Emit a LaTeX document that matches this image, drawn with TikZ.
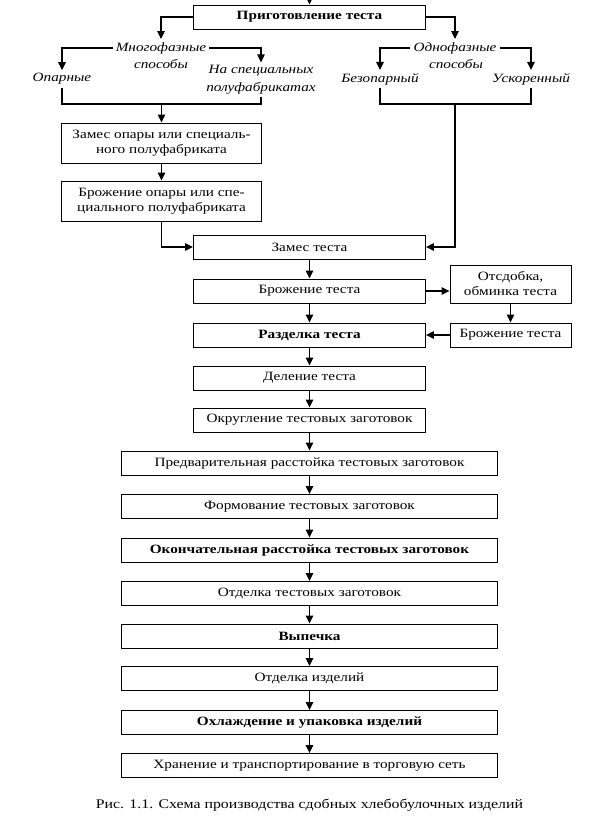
\documentclass[tikz,border=0pt]{standalone}
\usepackage{fontspec}
\setmainfont{Liberation Serif}[FakeStretch=1.2]
\usetikzlibrary{arrows.meta}
\begin{document}
\begin{tikzpicture}[x=1pt,y=-1pt,
  txt/.style={font=\fontsize{12.7}{15}\selectfont},
  bold/.style={font=\fontsize{12.7}{15}\selectfont\bfseries},
  box/.style={draw, line width=0.9pt, inner sep=0pt, align=center, minimum height=24pt, txt},
  main/.style={box, minimum width=232pt},
  wide/.style={box, minimum width=376pt},
  side/.style={box, minimum width=200pt, minimum height=40pt},
  rbox/.style={box, minimum width=121pt},
  lab/.style={font=\fontsize{12.7}{15}\selectfont\itshape, inner xsep=3pt, inner ysep=3pt},
  arr/.style={line width=1.2pt, -{Triangle[length=8pt,width=7.5pt]}},
  ln/.style={line width=1.2pt},
]
\useasboundingbox (0,0) rectangle (613,836);

% top
\coordinate (top) at (309.5,0);
\node[main, bold] (prep) at (309.5,17) {Приготовление теста};

% labels
\node[lab] (mf1) at (161,48) {Многофазные};
\node[lab] (mf2) at (161,64) {способы};
\node[lab] (op) at (62,79) {Опарные};
\node[lab] (ns1) at (261,71) {На специальных};
\node[lab] (ns2) at (261,88) {полуфабрикатах};
\node[lab] (of1) at (455,48) {Однофазные};
\node[lab] (of2) at (456,64) {способы};
\node[lab] (bz) at (380,79) {Безопарный};
\node[lab] (us) at (531,79) {Ускоренный};

% boxes
\node[side] (zo) at (161.5,143) {Замес опары или специаль-\\ного полуфабриката};
\node[side] (bo) at (161.5,201) {Брожение опары или спе-\\циального полуфабриката};
\node[main] (zt) at (309.5,247) {Замес теста};
\node[main] (bt) at (309.5,291) {Брожение теста};
\node[rbox, minimum height=38pt] (ots) at (510.5,284) {Отсдобка,\\обминка теста};
\node[main, bold] (rt) at (309.5,335) {Разделка теста};
\node[rbox] (bt2) at (510.5,335) {Брожение теста};
\node[main] (dt) at (309.5,378) {Деление теста};
\node[main] (okr) at (309.5,420) {Округление тестовых заготовок};
\node[wide] (pr) at (309.5,463) {Предварительная расстойка тестовых заготовок};
\node[wide] (fo) at (309.5,506.5) {Формование тестовых заготовок};
\node[wide, bold] (oc) at (309.5,550) {Окончательная расстойка тестовых заготовок};
\node[wide] (ot) at (309.5,593.5) {Отделка тестовых заготовок};
\node[wide, bold] (vy) at (309.5,636) {Выпечка};
\node[wide] (oi) at (309.5,678.5) {Отделка изделий};
\node[wide, bold] (oh) at (309.5,722.5) {Охлаждение и упаковка изделий};
\node[wide] (hr) at (309.5,765.5) {Хранение и транспортирование в торговую сеть};

\node[font=\fontsize{13.2}{15}\selectfont] (cap) at (309.5,805) {Рис. 1.1. Схема производства сдобных хлебобулочных изделий};

% connectors
\draw[arr] (top) -- (prep);
\draw[arr] (prep.west) -| (mf1.north);
\draw[arr] (prep.east) -| (of1.north);
\draw[arr] (mf1.west) -| (op.north);
\draw[arr] (mf1.east) -| (ns1.north);
\draw[arr] (of1.west) -| (bz.north);
\draw[arr] (of1.east) -| (us.north);

\coordinate (bl) at (161.5,104);
\coordinate (br) at (455,104);
\draw[ln] (op.south) |- (bl) -| (ns2.south);
\draw[arr] (bl) -- (zo.north);
\draw[ln] (bz.south) |- (br) -| (us.south);
\draw[arr] (br) |- (zt.east);

\draw[arr] (zo) -- (bo);
\draw[arr] (bo.south) |- (zt.west);
\draw[arr] (zt) -- (bt);
\draw[arr] (bt.east) -- (bt.east -| ots.west);
\draw[arr] (ots) -- (bt2);
\draw[arr] (bt2) -- (rt);
\draw[arr] (bt) -- (rt);
\draw[arr] (rt) -- (dt);
\draw[arr] (dt) -- (okr);
\draw[arr] (okr) -- (pr);
\draw[arr] (pr) -- (fo);
\draw[arr] (fo) -- (oc);
\draw[arr] (oc) -- (ot);
\draw[arr] (ot) -- (vy);
\draw[arr] (vy) -- (oi);
\draw[arr] (oi) -- (oh);
\draw[arr] (oh) -- (hr);
\end{tikzpicture}
\end{document}
